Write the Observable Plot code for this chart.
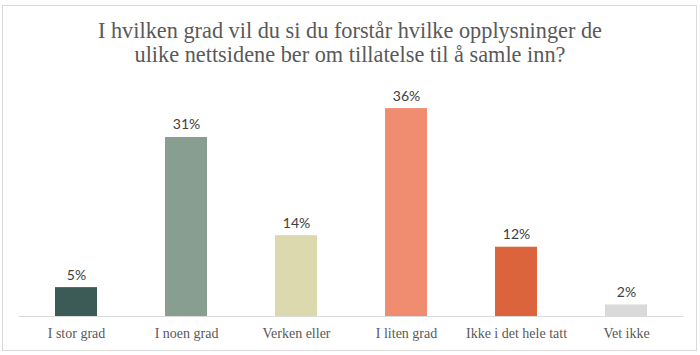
<!DOCTYPE html>
<html>
<head>
<meta charset="utf-8">
<script src="https://cdn.jsdelivr.net/npm/d3@7"></script>
<script src="https://cdn.jsdelivr.net/npm/@observablehq/plot@0.6"></script>
<style>
  html, body { margin: 0; padding: 0; background: #fff; }
  #wrap { position: relative; width: 700px; height: 355px; overflow: hidden; }
  #frame { position: absolute; left: 2px; top: 5px; width: 693px; height: 344px; border: 1px solid #d9d9d9; box-sizing: content-box; }
  #title { position: absolute; left: 0; top: 19px; width: 700px; text-align: center;
           font-family: "Liberation Serif", serif; font-size: 22.3px; line-height: 24px; color: #595959; }
  #chart { position: absolute; left: 0; top: 80px; }
</style>
</head>
<body>
<div id="wrap">
  <div id="frame"></div>
  <div id="title">I hvilken grad vil du si du forstår hvilke opplysninger de<br>ulike nettsidene ber om tillatelse til å samle inn?</div>
  <div id="chart"></div>
</div>
<script>
const categories = ["I stor grad", "I noen grad", "Verken eller", "I liten grad", "Ikke i det hele tatt", "Vet ikke"];
const values = [5, 31, 14, 36, 12, 2];
const colors = ["#3d5b56", "#889e90", "#dcd9ae", "#f08c70", "#dc643c", "#d9d9d9"];

const data = categories.map((c, i) => ({category: c, value: values[i]}));

const chart = Plot.plot({
  width: 700,
  height: 270,
  marginTop: 5,
  marginBottom: 34,
  marginLeft: 18.5,
  marginRight: 16.5,
  style: {background: "transparent", overflow: "visible"},
  x: {type: "band", domain: categories, paddingInner: 0.62, paddingOuter: 0.31, axis: null},
  y: {domain: [0, 40], axis: null},
  color: {domain: categories, range: colors},
  marks: [
    Plot.barY(data, {x: "category", y: "value", fill: "category"}),
    Plot.ruleY([0], {stroke: "#d9d9d9", strokeWidth: 1}),
    Plot.text(data, {x: "category", y: "value", text: d => d.value + "%", dy: -8, lineAnchor: "bottom",
      fontFamily: "Lato, sans-serif", fontSize: 14, fill: "#404040"}),
    Plot.axisX({tickSize: 0, tickPadding: 12, label: null, fontFamily: "Liberation Serif, serif", fontSize: 14, fill: "#595959"})
  ]
});
document.getElementById("chart").appendChild(chart);
</script>
</body>
</html>
